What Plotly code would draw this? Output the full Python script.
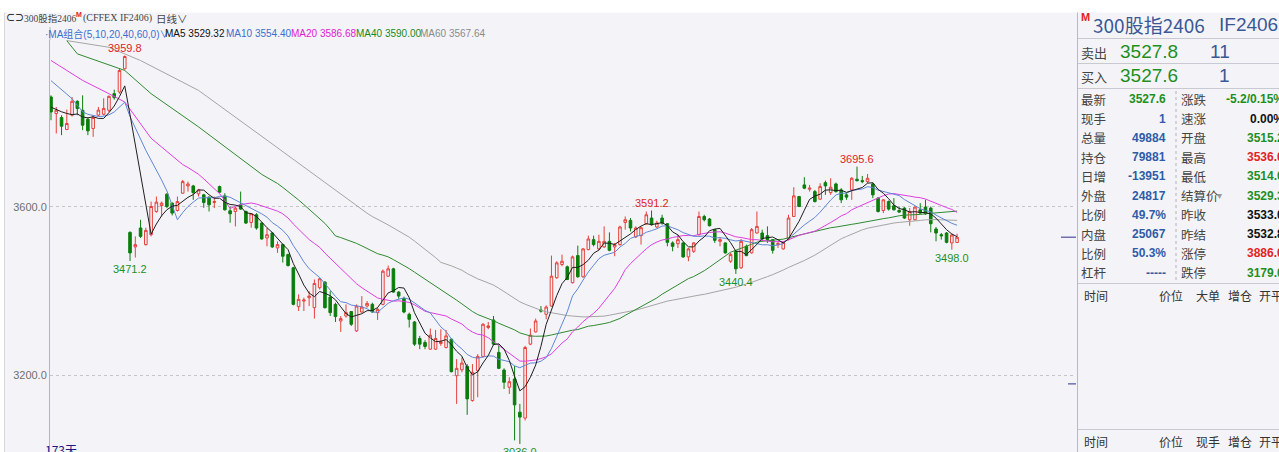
import pandas as pd
import plotly.graph_objects as go

# ---------------- data (daily candles, 173 days) ----------------
opens = [3861.1,3821.8,3812.3,3783.9,3817.8,3850.9,3829.6,3808.3,3786.3,3818.0,
         3820.0,3829.6,3869.1,3872.9,3928.3,3539.2,3504.6,3549.6,3510.1,3533.7,
         3588.9,3603.1,3630.1,3608.8,3591.2,3632.4,3649.7,3649.7,3630.8,3628.4,
         3623.0,3610.2,3648.1,3626.0,3590.5,3588.9,3604.7,3588.9,3562.8,3581.1,
         3561.4,3525.9,3537.7,3502.2,3510.1,3486.4,3454.9,3362.6,3375.9,3383.9,
         3360.2,3407.6,3420.8,3385.3,3368.0,3328.5,3340.4,3350.8,3304.8,3349.8,
         3364.0,3368.0,3348.4,3368.0,3435.0,3452.5,3397.2,3381.5,3344.4,3326.1,
         3286.8,3277.4,3261.5,3261.5,3275.0,3265.5,3285.2,3198.3,3212.5,3220.6,
         3139.2,3210.2,3244.2,3312.9,3330.9,3253.7,3211.8,3170.9,3190.5,3111.7,
         3097.5,3273.4,3302.5,3354.5,3344.4,3364.0,3431.2,3462.7,3457.3,3419.4,
         3484.0,3433.6,3498.2,3521.9,3499.9,3504.6,3517.9,3504.6,3510.1,3562.8,
         3567.6,3528.3,3531.4,3559.8,3573.3,3552.0,3573.3,3559.8,3514.1,3512.4,
         3514.1,3480.9,3494.2,3533.7,3577.0,3570.9,3545.6,3517.9,3514.1,3470.5,
         3494.2,3454.9,3506.0,3490.4,3537.7,3537.7,3531.4,3521.9,3510.1,3499.9,
         3523.5,3577.0,3624.4,3652.1,3641.9,3636.2,3618.2,3657.5,3633.8,3654.4,
         3640.2,3628.4,3640.2,3665.6,3662.3,3659.9,3654.4,3620.6,3591.2,3612.5,
         3602.4,3591.2,3596.9,3569.2,3569.2,3592.9,3599.3,3596.9,3547.2,3533.7,
         3537.7,3514.1,3515.2]
highs = [3865.1,3837.4,3817.8,3831.3,3861.1,3853.3,3865.1,3813.0,3817.8,3837.4,
         3858.0,3865.0,3878.6,3928.0,3959.8,3541.5,3529.7,3569.2,3550.3,3612.5,
         3624.4,3612.5,3632.4,3610.2,3624.4,3663.9,3659.9,3652.1,3642.6,3630.8,
         3624.4,3624.4,3650.4,3632.4,3600.7,3600.7,3636.2,3591.2,3585.1,3585.1,
         3562.8,3549.6,3540.0,3517.9,3512.4,3488.7,3457.3,3391.7,3383.9,3399.5,
         3427.2,3431.2,3423.2,3399.5,3372.0,3340.4,3368.0,3352.2,3368.0,3387.7,
         3376.0,3372.0,3360.2,3450.9,3460.3,3454.9,3399.5,3386.3,3348.4,3328.5,
         3293.0,3282.8,3310.5,3307.2,3308.9,3307.2,3286.8,3237.8,3241.9,3226.0,
         3226.0,3249.7,3323.0,3326.1,3340.4,3273.4,3215.8,3194.5,3221.9,3131.3,
         3269.3,3310.5,3334.2,3364.0,3365.7,3484.0,3470.5,3486.4,3460.3,3484.0,
         3507.7,3502.2,3531.4,3531.4,3533.7,3553.4,3539.2,3514.0,3555.0,3577.0,
         3573.3,3553.4,3552.7,3588.9,3591.2,3566.9,3581.1,3561.4,3517.9,3533.7,
         3515.5,3502.2,3515.5,3588.9,3581.1,3573.3,3547.2,3528.3,3515.5,3490.4,
         3496.6,3523.5,3510.1,3549.6,3588.9,3545.6,3553.4,3523.5,3517.9,3517.9,
         3581.1,3646.6,3626.0,3670.3,3652.1,3640.2,3656.1,3662.3,3667.9,3657.5,
         3644.3,3633.8,3670.3,3695.6,3673.4,3678.1,3657.5,3623.0,3618.2,3614.9,
         3620.6,3600.7,3599.3,3596.9,3600.7,3608.8,3616.6,3600.7,3552.0,3537.7,
         3540.0,3536.0,3536.0]
lows = [3805.9,3774.4,3770.4,3782.3,3815.0,3817.8,3782.3,3770.4,3766.4,3815.0,
        3817.0,3825.0,3854.9,3869.0,3926.0,3471.2,3479.3,3526.0,3507.7,3529.7,
        3585.8,3577.0,3596.9,3579.4,3588.9,3630.8,3636.2,3616.6,3624.4,3597.6,
        3588.9,3596.9,3632.4,3591.2,3562.1,3553.4,3592.9,3559.0,3550.3,3545.6,
        3521.9,3506.0,3502.2,3490.4,3467.4,3458.0,3365.7,3352.2,3352.2,3364.0,
        3334.2,3403.5,3357.9,3340.4,3326.1,3302.5,3336.5,3316.7,3302.5,3348.4,
        3360.2,3348.4,3330.9,3365.7,3433.6,3395.7,3381.5,3346.7,3312.9,3269.3,
        3261.5,3261.5,3259.9,3259.9,3269.3,3263.2,3206.4,3131.3,3206.4,3105.3,
        3136.8,3147.2,3241.9,3308.9,3271.0,3214.0,3166.8,3155.0,3044.5,3036.0,
        3091.8,3271.0,3301.0,3348.4,3332.5,3362.6,3428.9,3458.7,3425.6,3417.7,
        3431.2,3431.2,3496.6,3506.0,3496.6,3502.2,3494.2,3482.4,3507.7,3545.6,
        3541.5,3525.9,3510.1,3557.4,3555.0,3549.6,3557.4,3506.0,3494.2,3502.2,
        3478.6,3470.5,3490.4,3531.4,3565.2,3553.4,3514.1,3506.0,3488.7,3466.7,
        3440.4,3452.5,3482.4,3488.7,3536.1,3517.9,3514.1,3488.7,3502.2,3498.2,
        3520.2,3575.6,3599.3,3641.9,3636.2,3610.2,3616.6,3628.4,3628.4,3633.8,
        3608.8,3616.6,3616.6,3659.9,3656.1,3656.1,3620.6,3586.5,3585.1,3591.2,
        3591.2,3585.1,3570.9,3555.0,3567.6,3583.4,3581.1,3539.2,3517.9,3521.9,
        3513.1,3498.0,3514.0]
closes = [3825.6,3829.6,3791.7,3798.1,3850.9,3833.6,3794.1,3780.6,3812.3,3830.0,
          3834.0,3862.7,3859.7,3924.3,3957.4,3490.4,3510.1,3529.7,3543.9,3600.7,
          3611.1,3608.8,3600.7,3585.1,3612.5,3659.9,3654.4,3633.8,3640.2,3610.2,
          3604.7,3612.5,3634.8,3592.9,3583.4,3596.9,3594.6,3561.4,3583.4,3549.6,
          3523.5,3533.7,3504.6,3510.1,3482.4,3460.3,3368.0,3379.9,3378.3,3387.7,
          3417.7,3428.9,3360.2,3348.4,3338.9,3334.2,3348.4,3320.7,3364.0,3361.6,
          3370.4,3349.8,3356.2,3446.9,3452.5,3397.2,3387.7,3349.8,3332.5,3273.4,
          3273.4,3267.9,3294.7,3286.8,3278.8,3293.0,3207.8,3215.8,3228.4,3143.2,
          3206.4,3244.2,3320.7,3316.7,3273.4,3215.8,3182.7,3184.1,3129.0,3099.9,
          3265.5,3294.7,3328.5,3352.2,3361.6,3435.0,3466.7,3470.5,3427.2,3480.9,
          3433.6,3499.9,3523.5,3510.1,3517.9,3517.9,3496.6,3510.1,3552.0,3569.2,
          3549.6,3549.6,3550.3,3581.1,3557.4,3561.4,3561.4,3515.5,3506.0,3521.9,
          3480.9,3499.9,3514.1,3577.0,3569.2,3555.0,3520.2,3521.9,3490.4,3486.4,
          3452.5,3517.9,3484.0,3545.6,3553.4,3523.5,3521.9,3496.6,3512.4,3515.5,
          3573.3,3626.0,3600.7,3644.3,3644.3,3612.5,3648.1,3649.7,3646.6,3636.2,
          3616.6,3623.0,3667.9,3662.3,3659.9,3667.9,3628.4,3588.9,3616.6,3594.6,
          3592.9,3587.5,3573.3,3588.9,3599.3,3585.1,3583.4,3559.8,3537.7,3531.0,
          3515.5,3533.0,3527.6]

ma5_head = [3837.0, 3831.0, 3826.0, 3822.0]
ma10_head = [3900.0, 3890.0, 3880.0, 3868.0, 3857.0, 3842.0, 3826.0, 3820.0, 3817.0]
ma20_head_idx = [0, 6, 11, 14]
ma20_head_val = [3948.0, 3900.6, 3869.1, 3849.2]
ma40_head_idx = [3, 5, 14, 19, 28]
ma40_head_val = [3995.0, 3963.8, 3924.3, 3869.1, 3790.1]
ma60_head_idx = [3, 11, 17, 28, 41, 53]
ma60_head_val = [3995.3, 3979.4, 3947.9, 3876.9, 3758.6, 3648.0]

ma_legend = ["MA5 3529.32", "MA10 3554.40", "MA20 3586.68", "MA40 3590.00", "MA60 3567.64"]
ma_colors = ["#1e1e1e", "#5f86d6", "#e03ee0", "#2f8a2f", "#a5a5a5"]

peak_idx = [14, 114, 153]
trough_idx = [15, 89, 130, 171]

ytick_vals = [3200, 3600]
ytick_text = ["3200.0", "3600.0"]

quote_title = ["300股指2406", "IF2406"]
ask = ["卖出", "3527.8", "11"]
bid = ["买入", "3527.6", "1"]
left_labels = ["最新", "现手", "总量", "持仓", "日增", "外盘", "比例", "内盘", "比例", "杠杆"]
left_values = ["3527.6", "1", "49884", "79881", "-13951", "24817", "49.7%", "25067", "50.3%", "-----"]
right_labels = ["涨跌", "速涨", "开盘", "最高", "最低", "结算价", "昨收", "昨结", "涨停", "跌停"]
right_values = ["-5.2/0.15%", "0.00%", "3515.2", "3536.0", "3514.0", "3529.3", "3533.0", "3532.8", "3886.0", "3179.0"]
limit_down = 3179.0
cols_top = ["时间", "价位", "大单", "增仓", "开平"]
cols_bottom = ["时间", "价位", "现手", "增仓", "开平"]

# ---------------- styling ----------------
BG = "#f4f4f8"
UP = "#e5403a"
DN = "#0b7d0b"
GRN = "#1f8f1f"
RED = "#e02424"
BLU = "#2f5ca8"
FONT = "Liberation Sans, Noto Sans CJK SC, sans-serif"
CJK = "Noto Sans CJK SC, sans-serif"

W, H = 1279, 452
L, R, T, B = 50, 1073, 40, 452


def px(x):
    return (x - L) / (R - L)


def py(y):
    return (B - y) / (B - T)


n = len(closes)
idx = list(range(n))
cs = pd.Series(closes)


def ma_series(win, head_idx, head_val):
    roll = cs.rolling(win).mean()
    xs = list(head_idx) + list(range(win - 1, n))
    ys = list(head_val) + [float(v) for v in roll.iloc[win - 1:]]
    return xs, ys


ma_defs = [
    ma_series(5, list(range(len(ma5_head))), ma5_head),
    ma_series(10, list(range(len(ma10_head))), ma10_head),
    ma_series(20, ma20_head_idx, ma20_head_val),
    ma_series(40, ma40_head_idx, ma40_head_val),
    ma_series(60, ma60_head_idx, ma60_head_val),
]

fig = go.Figure()
fig.add_trace(go.Candlestick(
    x=idx, open=opens, high=highs, low=lows, close=closes,
    increasing=dict(line=dict(color=UP, width=1), fillcolor="rgba(0,0,0,0)"),
    decreasing=dict(line=dict(color=DN, width=1), fillcolor=DN),
    whiskerwidth=0, hoverinfo="skip", showlegend=False))

for (xs, ys), col in zip(ma_defs[::-1], ma_colors[::-1]):
    fig.add_trace(go.Scatter(x=xs, y=ys, mode="lines", line=dict(color=col, width=1),
                             hoverinfo="skip", showlegend=False))

ann = []


def txt(x, y, s, size=11, color="#333", anchor="left", family=FONT, bold=False, yanchor="middle"):
    if bold:
        s = "<b>" + s + "</b>"
    ann.append(dict(x=px(x), y=py(y), xref="paper", yref="paper", text=s, showarrow=False,
                    xanchor=anchor, yanchor=yanchor, font=dict(size=size, color=color, family=family)))


# high / low labels
for i in peak_idx:
    ann.append(dict(x=i, y=highs[i], xref="x", yref="y", text=f"{highs[i]:.1f}", showarrow=False,
                    yanchor="bottom", yshift=0, font=dict(size=11, color=RED, family=FONT)))
for i in trough_idx:
    ann.append(dict(x=i, y=lows[i], xref="x", yref="y", text=f"{lows[i]:.1f}", showarrow=False,
                    yanchor="top", yshift=0, font=dict(size=11, color=GRN, family=FONT)))

# header
txt(4, 18, "<b>⊂⊃</b>", size=9, color="#333")
txt(22, 18, "300股指2406", size=9.5, color="#444", family="Liberation Serif, Noto Sans CJK SC, serif")
txt(74, 14, "<b>M</b>", size=7, color=RED)
txt(81, 18, "(CFFEX IF2406)", size=10, color="#444", family="Liberation Serif, serif")
txt(154, 18, "日线∨", size=10.5, color="#444", family=CJK)

# MA legend
txt(43, 33.5, "·MA组合(5,10,20,40,60,0)∨", size=10, color="#3b6fd0", family="Liberation Sans, Noto Sans CJK SC")
leg_x = [163, 224, 289, 354, 418]
leg_cols = ["#111111", "#3b6fd0", "#e020d0", "#1b8a1b", "#8a8a8a"]
for x, s, c in zip(leg_x, ma_legend, leg_cols):
    txt(x, 33.5, s, size=10, color=c)

txt(43, 449, f"{n}天", size=12, color="#1a1a80", family=CJK)

# right panel
txt(1079, 17, "<b>M</b>", size=11, color=RED)
txt(1091, 24, quote_title[0], size=19, color="#3a5896", family=CJK)
txt(1217, 24, quote_title[1], size=19, color="#3a5896")
for y, row in [(52, ask), (76, bid)]:
    txt(1079, y + 1, row[0], size=13, color="#444", family=CJK)
    txt(1118, y, row[1], size=19, color=GRN)
    txt(1232, y, row[2], size=19, color="#3a5896", anchor="right")

left_cols = [GRN] + [BLU] * 9
right_cols = [GRN, "#111", GRN, RED, GRN, GRN, "#111", "#111", RED, GRN]
for k in range(len(left_labels)):
    y = 99.3 + k * 19.25
    txt(1079, y, left_labels[k], size=12.5, color="#444", family=CJK)
    txt(1168, y, left_values[k], size=12, color=left_cols[k], anchor="right", bold=True)
    txt(1179, y, right_labels[k], size=12.5, color="#444", family=CJK)
    txt(1286, y, right_values[k], size=12, color=right_cols[k], anchor="right", bold=True)
txt(1215, 195.5, "▾", size=10, color="#999")

col_x = [1082, 1157, 1194, 1226, 1257]
for x, s in zip(col_x, cols_top):
    txt(x, 295, s, size=12, color="#333", family=CJK)
for x, s in zip(col_x, cols_bottom):
    txt(x, 441, s, size=12, color="#333", family=CJK)

shapes = []


def hline(y, x0, x1, color="#c9c9d1", width=1, dash="solid"):
    shapes.append(dict(type="line", xref="paper", yref="paper", x0=px(x0), x1=px(x1), y0=py(y), y1=py(y),
                       line=dict(color=color, width=width, dash=dash)))


def vline(x, y0, y1, color="#c9c9d1", width=1, dash="solid"):
    shapes.append(dict(type="line", xref="paper", yref="paper", x0=px(x), x1=px(x), y0=py(y0), y1=py(y1),
                       line=dict(color=color, width=width, dash=dash)))


shapes.append(dict(type="rect", xref="paper", yref="paper", x0=px(0), x1=px(W), y0=py(12.5), y1=py(-2),
                   fillcolor="white", line=dict(width=0), layer="above"))
shapes.append(dict(type="rect", xref="paper", yref="paper", x0=px(-2), x1=px(4.5), y0=py(460), y1=py(0),
                   fillcolor="white", line=dict(width=0), layer="above"))
vline(4.5, 12.5, 452, color="#d6d6dc")
vline(L, 27, 40, color="#b4b4bc")
vline(1077.5, 12.5, 452, color="#b9b9c1")
for y in [38.5, 63.5, 88.5, 283.5, 429.5]:
    hline(y, 1078, 1279)
vline(1176, 91, 281, color="#b0b0b8", dash="dot")
# last price and limit-down markers on the right edge
for val, x0 in [(closes[-1], 1061), (limit_down, 1068)]:
    shapes.append(dict(type="line", xref="paper", yref="y", x0=px(x0), x1=px(1076), y0=val, y1=val,
                       line=dict(color="#6f6fae", width=1.5)))

fig.update_layout(
    width=W, height=H, margin=dict(l=L, r=W - R, t=T, b=H - B),
    paper_bgcolor=BG, plot_bgcolor=BG,
    xaxis=dict(range=[-0.19, 194.0], visible=False, rangeslider=dict(visible=False), fixedrange=True),
    yaxis=dict(range=[3016.9, 3996.7], tickvals=ytick_vals, ticktext=ytick_text,
               showgrid=True, gridcolor="#c4c4cc", griddash="dot", gridwidth=1,
               showline=True, linecolor="#b4b4bc", linewidth=1, ticks="", zeroline=False,
               tickfont=dict(size=11, color="#707070", family=FONT)),
    annotations=ann, shapes=shapes, showlegend=False,
)

fig.write_html("out.html", config={"displayModeBar": False},
               post_script="document.body.style.margin='0';document.body.style.overflow='hidden';")
